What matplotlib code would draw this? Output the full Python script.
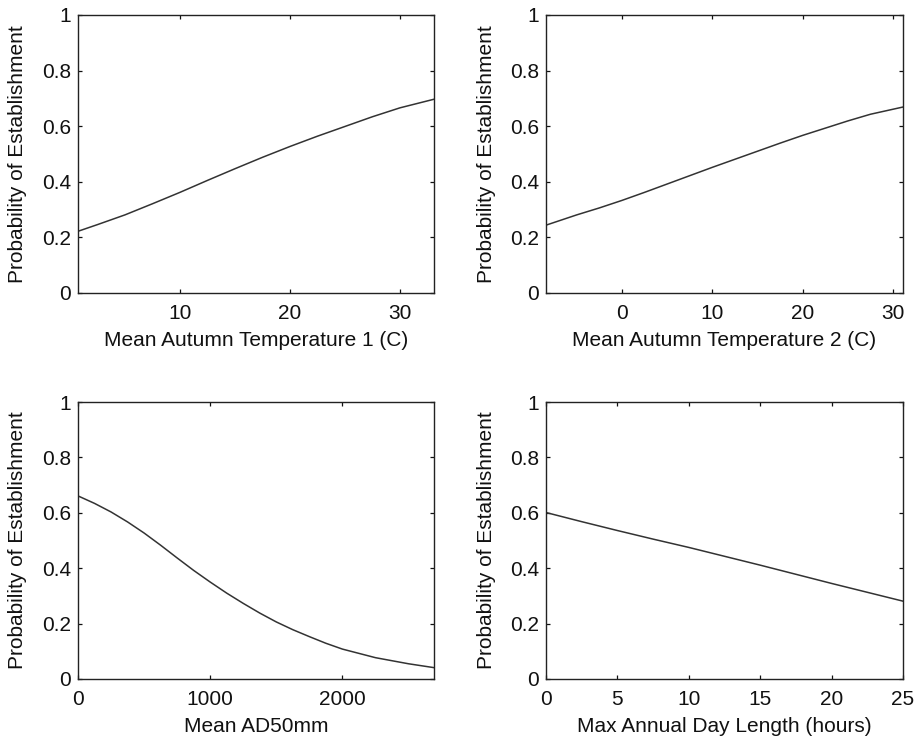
import matplotlib
matplotlib.use("Agg")
import matplotlib.pyplot as plt

plt.rcParams['font.family'] = ['Liberation Sans', 'DejaVu Sans']

# ---- data ----
temp1_x = [0.73, 2.5, 5, 7.5, 10, 12.5, 15, 17.5, 20, 22.5, 25, 27.5, 30, 33.1]
temp1_p = [0.222, 0.246, 0.281, 0.321, 0.362, 0.405, 0.447, 0.488, 0.527, 0.564,
           0.599, 0.634, 0.666, 0.697]

temp2_x = [-8.4, -5, -2.5, 0, 2.5, 5, 7.5, 10, 12.5, 15, 17.5, 20, 22.5, 25, 27.5, 31.1]
temp2_p = [0.244, 0.281, 0.306, 0.333, 0.362, 0.392, 0.422, 0.452, 0.481, 0.510,
           0.539, 0.567, 0.593, 0.619, 0.643, 0.669]

ad50_x = [0, 125, 250, 375, 500, 625, 750, 875, 1000, 1125, 1250, 1375, 1500,
          1625, 1750, 1875, 2000, 2250, 2500, 2693]
ad50_p = [0.661, 0.634, 0.603, 0.567, 0.527, 0.483, 0.437, 0.392, 0.350, 0.310,
          0.273, 0.238, 0.206, 0.178, 0.153, 0.129, 0.108, 0.077, 0.055, 0.041]

day_x = [0, 2.5, 5, 7.5, 10, 12.5, 15, 17.5, 20, 22.5, 25]
day_p = [0.601, 0.568, 0.536, 0.505, 0.475, 0.443, 0.411, 0.378, 0.345, 0.313, 0.281]

panels = [
    (temp1_x, temp1_p, 'Mean Autumn Temperature 1 (C)', (0.73, 33.1), [10, 20, 30]),
    (temp2_x, temp2_p, 'Mean Autumn Temperature 2 (C)', (-8.4, 31.1), [0, 10, 20, 30]),
    (ad50_x, ad50_p, 'Mean AD50mm', (0, 2693), [0, 1000, 2000]),
    (day_x, day_p, 'Max Annual Day Length (hours)', (0, 25), [0, 5, 10, 15, 20, 25]),
]

# axes boxes in pixels (left, top, right, bottom) on a 915x738 canvas
W, H = 915, 738
boxes = [(78, 15, 434, 293), (546, 15, 903, 293),
         (78, 402, 434, 679), (546, 402, 903, 679)]

fig = plt.figure(figsize=(W / 100, H / 100), dpi=100)

for (x, p, xlab, xlim, xticks), (l, t, r, b) in zip(panels, boxes):
    ax = fig.add_axes([l / W, 1 - b / H, (r - l) / W, (b - t) / H])
    ax.plot(x, p, color='#333333', linewidth=1.1)
    ax.set_xlim(*xlim)
    ax.set_ylim(0, 1)
    ax.set_xticks(xticks)
    ax.set_yticks([0, 0.2, 0.4, 0.6, 0.8, 1])
    ax.set_yticklabels(['0', '0.2', '0.4', '0.6', '0.8', '1'])
    ax.tick_params(direction='in', top=True, right=True, length=3, width=0.9,
                   labelsize=15, pad=5, colors='#111111')
    ax.tick_params(axis='x', pad=8)
    for s in ax.spines.values():
        s.set_linewidth(1.0)
        s.set_color('#222222')
    ax.set_xlabel(xlab, fontsize=15, color='#111111')
    ax.set_ylabel('Probability of Establishment', fontsize=15, color='#111111')
    ax.xaxis.set_label_coords(0.5, -47 / (b - t))
    ax.yaxis.set_label_coords(-60 / (r - l), 0.5)
    ax.xaxis.label.set_va('center')
    ax.yaxis.label.set_va('center')

fig.savefig('out.png', dpi=100)
